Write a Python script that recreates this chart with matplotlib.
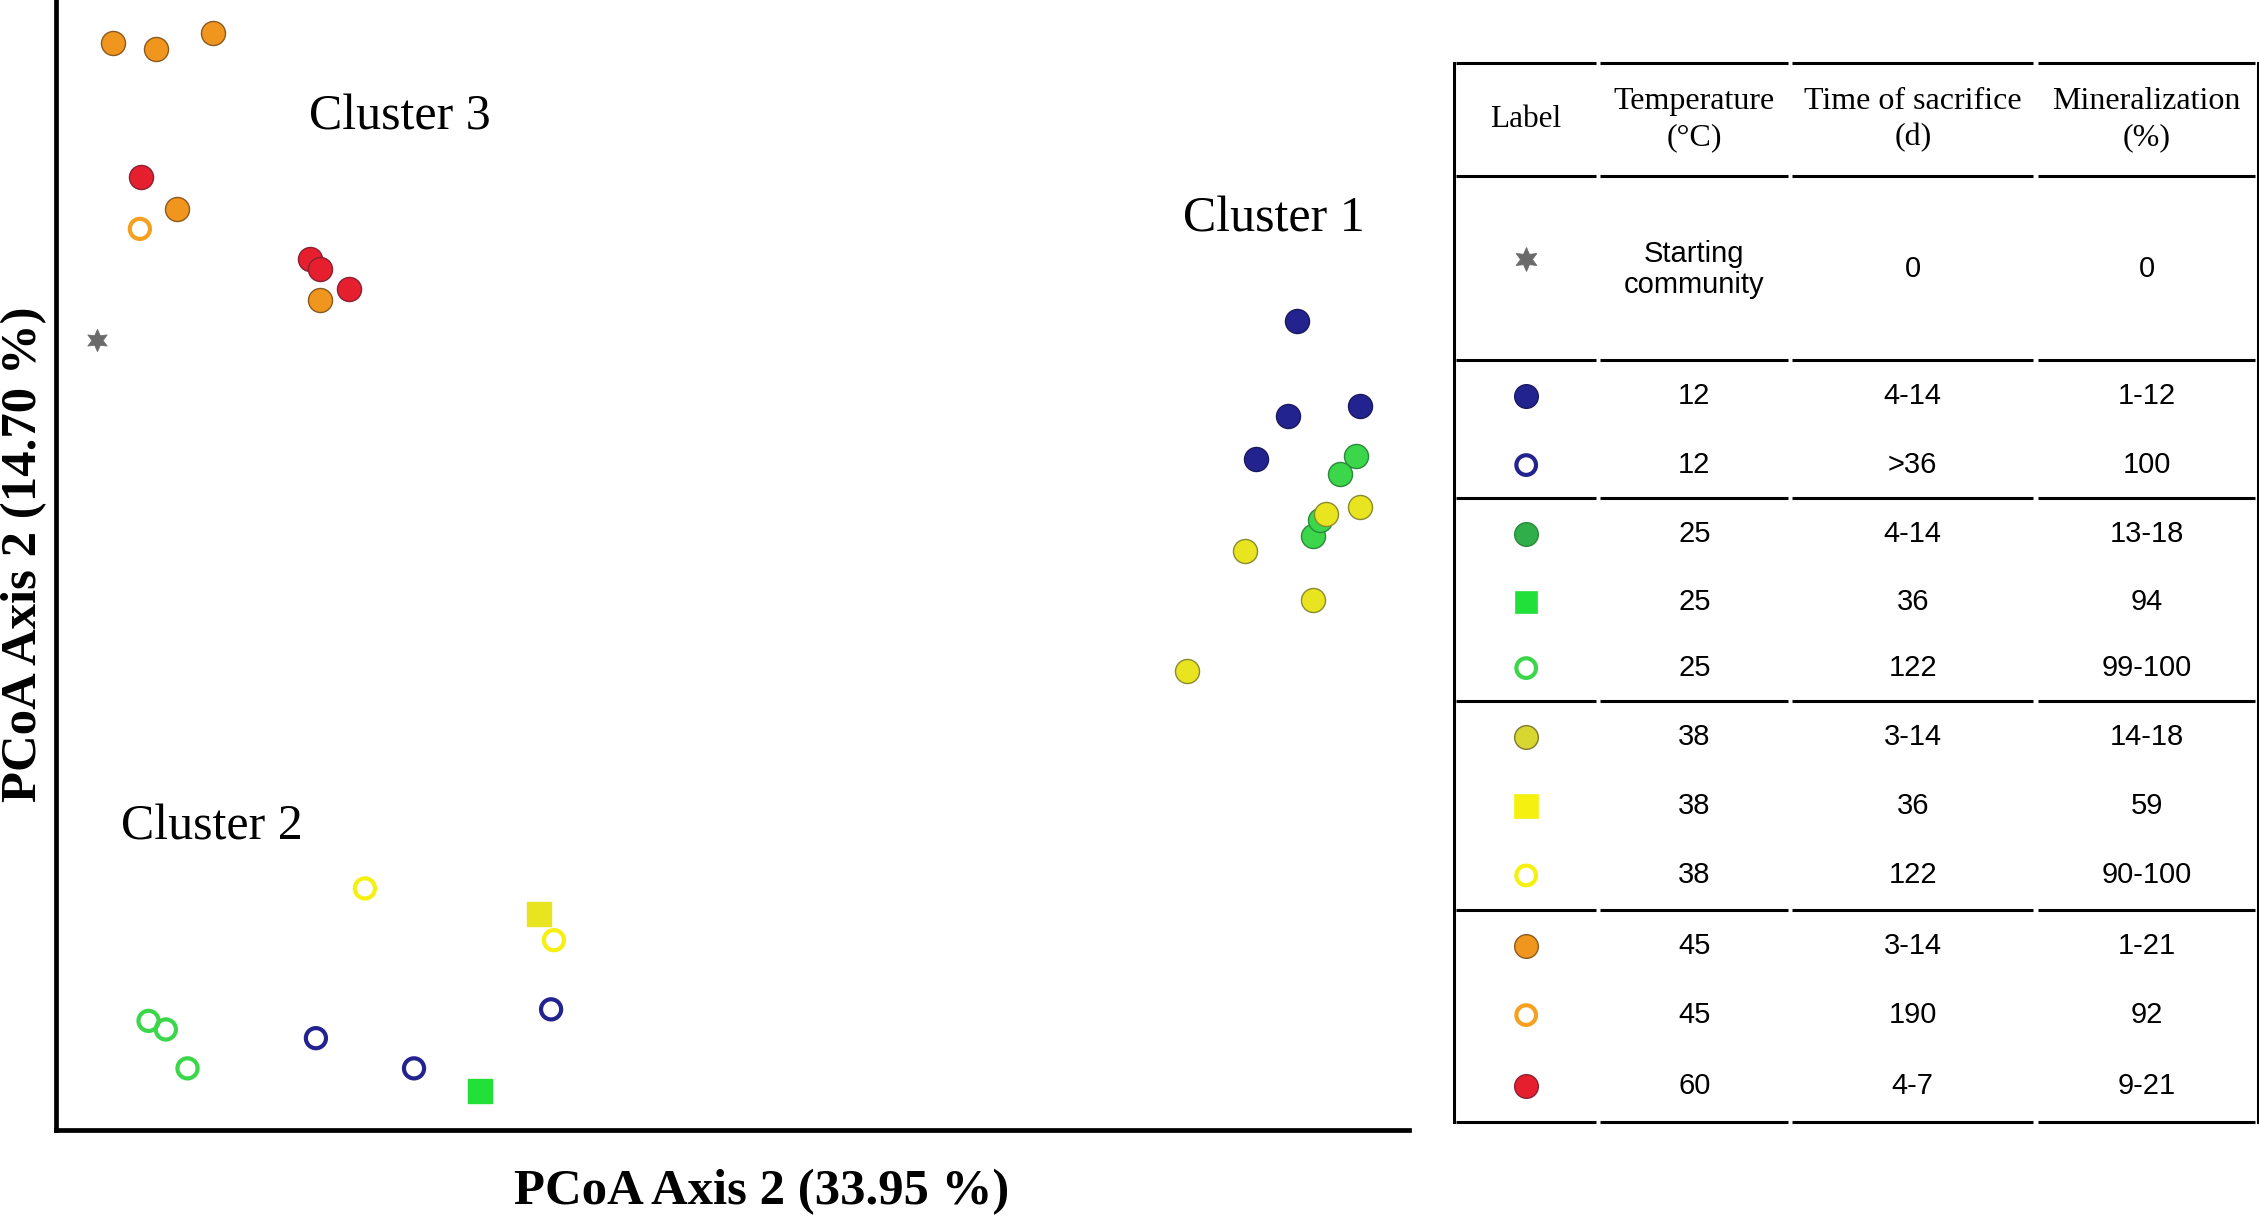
import matplotlib
matplotlib.use('Agg')
import matplotlib.pyplot as plt

# PCoA scores (arbitrary units)
orange_x = [4.16, 7.36, 11.62, 8.96, 19.51]
orange_y = [96.18, 95.67, 97.07, 81.53, 73.50]
orange_open_x = [6.18]
orange_open_y = [79.75]
red_x = [6.29, 18.76, 19.51, 21.64]
red_y = [84.33, 77.07, 76.18, 74.39]
start_x = [2.99]
start_y = [69.94]
blue_x = [91.68, 96.38, 91.04, 88.70]
blue_y = [71.59, 64.08, 63.18, 59.36]
green_x = [96.06, 94.88, 92.86, 93.39]
green_y = [59.62, 58.09, 52.61, 54.01]
yellow_x = [93.82, 96.38, 87.85, 92.86, 83.58]
yellow_y = [54.52, 55.16, 51.21, 46.88, 40.64]
yellow_open_x = [22.81, 36.78]
yellow_open_y = [21.40, 16.82]
yellow_sq_x = [35.71]
yellow_sq_y = [19.11]
green_open_x = [6.82, 8.10, 9.70]
green_open_y = [9.68, 8.92, 5.48]
blue_open_x = [19.19, 26.44, 36.57]
blue_open_y = [8.15, 5.48, 10.70]
green_sq_x = [31.34]
green_sq_y = [3.44]

# legend table
head = ['Label', 'Temperature\n(°C)', 'Time of sacrifice\n(d)', 'Mineralization\n(%)']
temps = ['Starting\ncommunity', '12', '12', '25', '25', '25', '38', '38', '38', '45', '45', '60']
times = ['0', '4-14', '>36', '4-14', '36', '122', '3-14', '36', '122', '3-14', '190', '4-7']
miner = ['0', '1-12', '100', '13-18', '94', '99-100', '14-18', '59', '90-100', '1-21', '92', '9-21']

C_BLUE = '#23238f'
C_GREEN = '#3bd64a'
C_GREEN_D = '#2fae4a'
C_YEL = '#e8e420'
C_YEL_B = '#f5f010'
C_ORA = '#f0961e'
C_RED = '#e61f2f'
C_GREY = '#6a6a6a'

# (marker, face, edge, size, lw) for every legend row
styles = [
    ((6, 1, 0), C_GREY, C_GREY, 300, 0.5),
    ('o', C_BLUE, '#1a1a60', 290, 1.0),
    ('o', 'none', C_BLUE, 200, 3.0),
    ('o', C_GREEN_D, '#2a8a3c', 290, 1.0),
    ('s', '#22e03a', '#22e03a', 230, 0.5),
    ('o', 'none', C_GREEN, 200, 3.0),
    ('o', '#d8d630', '#7a7a30', 290, 1.0),
    ('s', C_YEL_B, C_YEL_B, 300, 0.5),
    ('o', 'none', C_YEL_B, 200, 3.0),
    ('o', C_ORA, '#8a5a20', 290, 1.0),
    ('o', 'none', '#f5a020', 200, 3.0),
    ('o', C_RED, '#8a2030', 290, 1.0),
]

W, H = 1566, 848
fig = plt.figure(figsize=(22.59, 12.21), dpi=100)

ax = fig.add_axes([39 / W, 1 - 785 / H, (977 - 39) / W, 785 / H])
ax.set_xlim(0, 100)
ax.set_ylim(0, 100)
ax.set_xticks([])
ax.set_yticks([])
for s in ['top', 'right']:
    ax.spines[s].set_visible(False)
for s in ['left', 'bottom']:
    ax.spines[s].set_linewidth(3.4)

kw = dict(clip_on=False, zorder=3)
ax.scatter(orange_x, orange_y, s=300, c=C_ORA, edgecolors='#8a5a20', linewidths=1.0, **kw)
ax.scatter(orange_open_x, orange_open_y, s=210, facecolors='none', edgecolors='#f5a020', linewidths=3.0, **kw)
ax.scatter(red_x, red_y, s=300, c=C_RED, edgecolors='#8a2030', linewidths=1.0, **kw)
ax.scatter(start_x, start_y, s=260, marker=(6, 1, 0), c=C_GREY, edgecolors=C_GREY, linewidths=0.5, **kw)
ax.scatter(blue_x, blue_y, s=300, c=C_BLUE, edgecolors='#1a1a60', linewidths=1.0, **kw)
ax.scatter(green_x, green_y, s=300, c=C_GREEN, edgecolors='#2a8a3c', linewidths=1.0, **kw)
ax.scatter(yellow_x, yellow_y, s=300, c=C_YEL, edgecolors='#8a8a30', linewidths=1.0, **kw)
ax.scatter(yellow_open_x, yellow_open_y, s=210, facecolors='none', edgecolors=C_YEL_B, linewidths=3.0, **kw)
ax.scatter(yellow_sq_x, yellow_sq_y, s=300, marker='s', c=C_YEL, edgecolors=C_YEL, **kw)
ax.scatter(green_open_x, green_open_y, s=210, facecolors='none', edgecolors=C_GREEN, linewidths=3.0, **kw)
ax.scatter(blue_open_x, blue_open_y, s=210, facecolors='none', edgecolors=C_BLUE, linewidths=3.0, **kw)
ax.scatter(green_sq_x, green_sq_y, s=300, marker='s', c='#22e03a', edgecolors='#22e03a', **kw)

serif = 'Liberation Serif'
sans = 'Liberation Sans'
ax.text(25.4, 89.6, 'Cluster 3', fontsize=36, family=serif, ha='center', va='center')
ax.text(90.0, 80.6, 'Cluster 1', fontsize=36, family=serif, ha='center', va='center')
ax.text(11.5, 26.8, 'Cluster 2', fontsize=36, family=serif, ha='center', va='center')

fig.text(528 / W, 1 - 828 / H, 'PCoA Axis 2 (33.95 %)', fontsize=36.5, family=serif,
         fontweight='bold', ha='center', va='center')
fig.text(17 / W, 1 - 385 / H, 'PCoA Axis 2 (14.70 %)', fontsize=36.5, family=serif,
         fontweight='bold', ha='center', va='center', rotation=90)

# table drawn on an overlay in page units
tx = fig.add_axes([0, 0, 1, 1], facecolor='none')
tx.set_xlim(0, W)
tx.set_ylim(H, 0)
tx.axis('off')

col_edges = [1008, 1108, 1241, 1411, 1565]
col_mid = [(a + b) / 2 for a, b in zip(col_edges[:-1], col_edges[1:])]
hlines = [44, 122, 250, 346, 487, 632, 779]
row_y = [187, 275, 323, 371, 418, 464, 512, 560, 608, 657, 705, 754]

for yy in hlines:
    for a, b in zip(col_edges[:-1], col_edges[1:]):
        tx.plot([a + 1.5, b - 1.5], [yy, yy], color='black', lw=2.2, solid_capstyle='butt')
for xx in [col_edges[0], col_edges[-1]]:
    tx.plot([xx, xx], [hlines[0], hlines[-1]], color='black', lw=2.2)

tx.text(col_mid[0], 83, head[0], fontsize=22.5, family=serif, ha='center', va='center')
for i in range(1, 4):
    tx.text(col_mid[i], 83, head[i], fontsize=23, family=serif, ha='center', va='center',
            linespacing=1.3)

for i, yy in enumerate(row_y):
    m, fc, ec, sz, lw = styles[i]
    tx.scatter([col_mid[0]], [yy - (7 if i == 0 else 0)], s=sz, marker=m, facecolors=fc,
               edgecolors=ec, linewidths=lw)
    tx.text(col_mid[1], yy, temps[i], fontsize=21, family=sans, ha='center', va='center',
            linespacing=1.15)
    tx.text(col_mid[2], yy, times[i], fontsize=21, family=sans, ha='center', va='center')
    tx.text(col_mid[3], yy, miner[i], fontsize=21, family=sans, ha='center', va='center')

fig.savefig('out.png', dpi=100)
